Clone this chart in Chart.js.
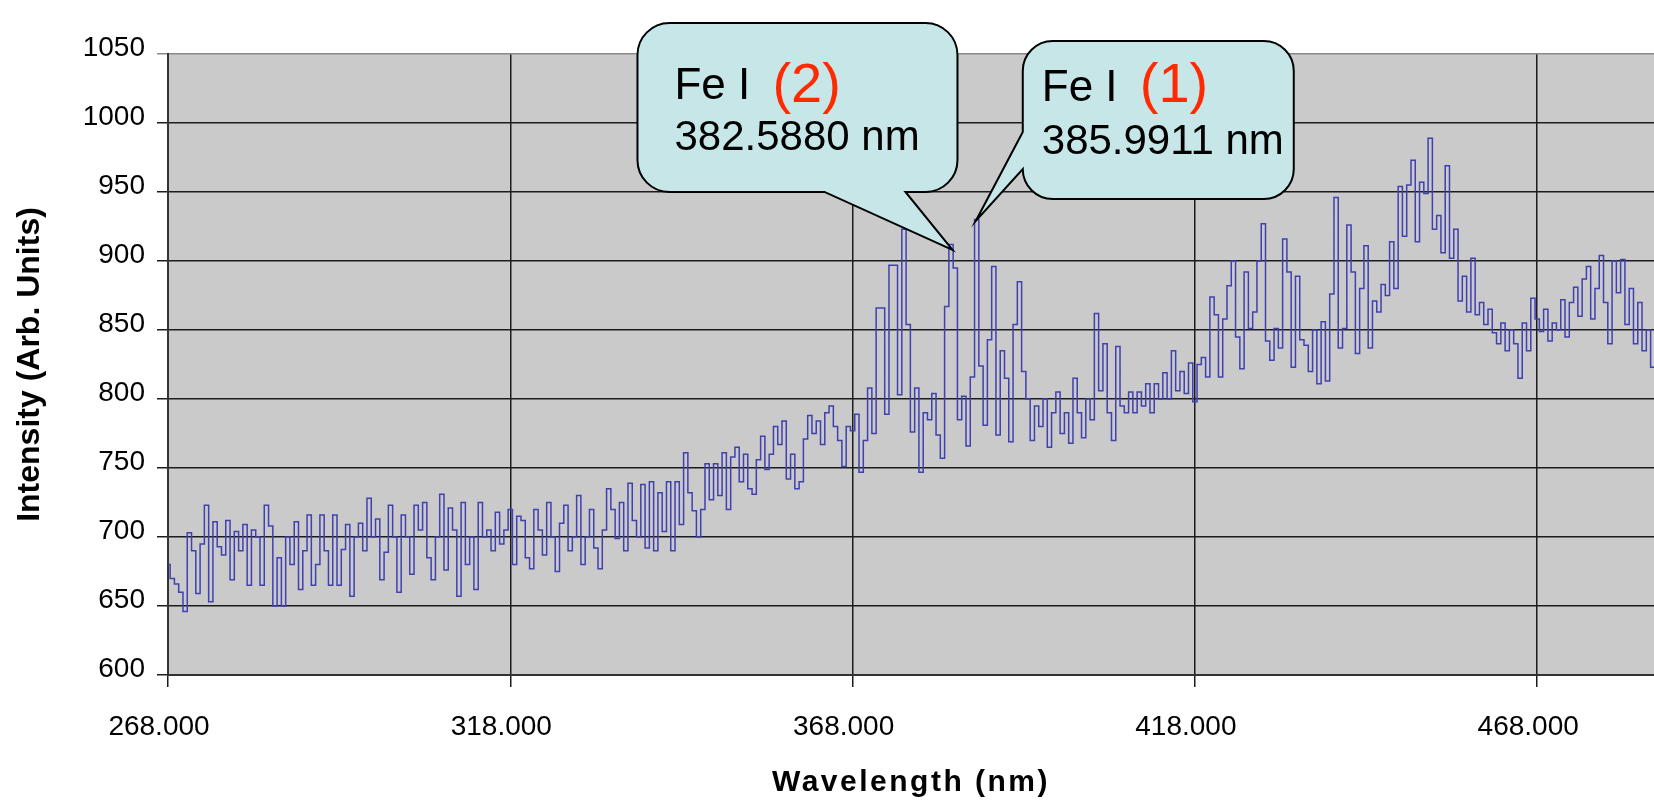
<!DOCTYPE html>
<html>
<head>
<meta charset="utf-8">
<title>Fe I emission spectrum</title>
<script src="https://cdn.jsdelivr.net/npm/chart.js@4.4.1/dist/chart.umd.min.js"></script>
<style>
  html, body { margin: 0; padding: 0; background: #fff; overflow: hidden; }
  #wrap { width: 1654px; height: 804px; }
</style>
</head>
<body>
<div id="wrap"><canvas id="spectrumChart" width="1654" height="804"></canvas></div>
<script>
// wavelength grid of the spectrometer (nm)
const startNm = 268;
const stepNm = 0.625;

const xTickValues = [268, 318, 368, 418, 468];

// intensity, one row = 10 nm
const intensity = [
  680, 670, 666, 660, 646, 703, 690, 659, 695, 723, 653, 711, 693, 687, 712, 669,
  704, 690, 709, 665, 705, 700, 665, 723, 708, 650, 685, 650, 700, 680, 711, 662,
  690, 716, 665, 680, 716, 690, 665, 716, 665, 691, 709, 657, 700, 710, 690, 728,
  700, 713, 669, 689, 723, 700, 660, 716, 700, 673, 723, 705, 725, 685, 669, 700,
  731, 676, 721, 705, 657, 725, 680, 700, 662, 725, 700, 705, 690, 718, 695, 705,
  720, 680, 715, 712, 685, 677, 720, 705, 687, 725, 700, 675, 710, 723, 690, 700,
  730, 680, 700, 720, 692, 677, 705, 735, 720, 699, 725, 690, 739, 712, 700, 738,
  692, 740, 690, 732, 704, 740, 690, 740, 709, 761, 732, 719, 700, 720, 753, 727,
  753, 730, 761, 720, 758, 765, 740, 760, 735, 731, 756, 773, 749, 760, 780, 767,
  784, 742, 760, 735, 740, 771, 788, 775, 784, 767, 790, 795, 780, 770, 751, 780,
  777, 789, 747, 770, 808, 775, 866, 866, 789, 897, 897, 803, 923, 854, 776, 808,
  747, 790, 785, 804, 774, 757, 867, 912, 895, 785, 802, 766, 816, 930, 824, 781,
  843, 896, 774, 835, 815, 769, 854, 885, 820, 800, 770, 795, 780, 800, 765, 790,
  805, 775, 790, 768, 815, 790, 772, 800, 785, 862, 806, 840, 790, 770, 838, 795,
  790, 805, 790, 805, 795, 811, 790, 811, 800, 819, 800, 835, 806, 820, 804, 826,
  798, 825, 830, 816, 874, 861, 816, 858, 882, 900, 845, 822, 892, 851, 863, 900,
  927, 842, 828, 851, 837, 916, 892, 823, 889, 843, 839, 820, 850, 811, 856, 813,
  876, 946, 837, 851, 926, 892, 833, 880, 911, 837, 871, 863, 883, 875, 914, 880,
  954, 918, 955, 973, 914, 957, 949, 989, 923, 933, 906, 969, 902, 923, 871, 889,
  863, 902, 861, 870, 854, 865, 848, 840, 855, 835, 850, 840, 815, 855, 835, 873,
  858, 849, 865, 842, 855, 850, 872, 845, 870, 881, 860, 887, 896, 858, 880, 904,
  870, 840, 900, 877, 901, 854, 880, 840, 870, 835, 850, 823, 830, 845, 835, 840
];

// the two marked iron lines
const lineNames = ["Fe I", "Fe I"];
const lineOrders = ["(2)", "(1)"];
const lineWavelengths = [382.5880, 385.9911];
const linePeaks = [908, 929];

const FONT = '"Liberation Sans", Arial, sans-serif';

const points = intensity.map((v, i) => ({ x: startNm + i * stepNm, y: v }));

// balloon geometry, relative to the tip that points at the peak
const balloonLayout = [
  { left: -315, right: 5, top: -227, bottom: -58, radius: 32,
    tail: { side: "bottom", from: -47, to: -128 },
    nameX: 37, nameY: 76, orderX: 135, orderY: 79, numberY: 127 },
  { left: 47, right: 318, top: -180, bottom: -22, radius: 30,
    tail: { side: "left", from: -52, to: -89 },
    nameX: 19, nameY: 60, orderX: 117, orderY: 61, numberY: 113 }
];

const plotBackground = {
  id: "plotBackground",
  beforeDraw(chart) {
    const { ctx, chartArea: a } = chart;
    ctx.save();
    ctx.fillStyle = "#cacaca";
    ctx.fillRect(a.left, a.top, a.right - a.left, a.bottom - a.top);
    ctx.restore();
  }
};

function balloonPath(ctx, l, t, r, b, rad, tail, tipX, tipY) {
  ctx.beginPath();
  ctx.moveTo(l + rad, t);
  ctx.arcTo(r, t, r, b, rad);
  ctx.arcTo(r, b, l, b, rad);
  if (tail.side === "bottom") {
    ctx.lineTo(tipX + tail.from, b);
    ctx.lineTo(tipX, tipY);
    ctx.lineTo(tipX + tail.to, b);
  }
  ctx.arcTo(l, b, l, t, rad);
  if (tail.side === "left") {
    ctx.lineTo(l, tipY + tail.from);
    ctx.lineTo(tipX, tipY);
    ctx.lineTo(l, tipY + tail.to);
  }
  ctx.arcTo(l, t, r, t, rad);
  ctx.closePath();
}

const balloons = {
  id: "balloons",
  afterDraw(chart) {
    const { ctx, scales: { x, y } } = chart;
    lineWavelengths.forEach((nm, i) => {
      const tipX = x.getPixelForValue(nm);
      const tipY = y.getPixelForValue(linePeaks[i]);
      const L = balloonLayout[i];
      const l = tipX + L.left, r = tipX + L.right, t = tipY + L.top, b = tipY + L.bottom;

      ctx.save();
      balloonPath(ctx, l, t, r, b, L.radius, L.tail, tipX, tipY);
      ctx.fillStyle = "#c6e6e8";
      ctx.fill();
      ctx.lineWidth = 2;
      ctx.strokeStyle = "#000";
      ctx.stroke();

      ctx.textAlign = "left";
      ctx.textBaseline = "alphabetic";
      ctx.fillStyle = "#000";
      ctx.font = "44px " + FONT;
      ctx.fillText(lineNames[i], l + L.nameX, t + L.nameY);
      ctx.font = "56px " + FONT;
      ctx.fillStyle = "#ff2a00";
      ctx.fillText(lineOrders[i], l + L.orderX, t + L.orderY);
      ctx.font = "42px " + FONT;
      ctx.fillStyle = "#000";
      ctx.fillText(nm.toFixed(4) + " nm", l + L.nameX, t + L.numberY);
      ctx.restore();
    });
  }
};

// the axis title in the original is tracked out a little
function spacedTitle(scale) {
  if (scale._spaced) return;
  scale._spaced = true;
  const draw = scale.drawTitle.bind(scale);
  scale.drawTitle = function () {
    const ctx = this.ctx;
    ctx.save();
    ctx.letterSpacing = "2.5px";
    draw();
    ctx.restore();
  };
}

new Chart(document.getElementById("spectrumChart").getContext("2d"), {
  type: "line",
  data: {
    datasets: [{
      label: "Intensity",
      data: points,
      borderColor: "#4040b0",
      borderWidth: 1.5,
      pointRadius: 0,
      stepped: "middle",
      fill: false
    }]
  },
  options: {
    responsive: false,
    animation: false,
    devicePixelRatio: 1,
    layout: { padding: { top: 54, left: 0, right: 0, bottom: 0 } },
    plugins: { legend: { display: false }, tooltip: { enabled: false } },
    scales: {
      x: {
        type: "linear",
        min: 268,
        max: 485.06,
        afterBuildTicks: (scale) => { scale.ticks = xTickValues.map(value => ({ value })); },
        afterFit: (scale) => { scale.height = 129; spacedTitle(scale); },
        ticks: {
          callback: (v) => Number(v).toFixed(3),
          font: { family: FONT, size: 28 },
          color: "#000",
          padding: 23,
          labelOffset: -9,
          maxRotation: 0,
          autoSkip: false
        },
        grid: { color: "#1c1c1c", lineWidth: 1.5, tickLength: 12 },
        border: { color: "#333", width: 2 },
        title: {
          display: true,
          text: "Wavelength (nm)",
          font: { family: FONT, size: 30, weight: "bold" },
          color: "#000",
          padding: { top: 0, bottom: 3 }
        }
      },
      y: {
        min: 600,
        max: 1050,
        afterFit: (scale) => { scale.width = 168; },
        ticks: {
          stepSize: 50,
          callback: (v) => String(v),
          font: { family: FONT, size: 28 },
          color: "#000",
          padding: 12,
          labelOffset: -6
        },
        grid: {
          color: (c) => (c.tick && c.tick.value === 1050 ? "#8a8a8a" : "#1c1c1c"),
          lineWidth: 1.5,
          tickLength: 11
        },
        border: { color: "#333", width: 2 },
        title: {
          display: true,
          text: "Intensity (Arb. Units)",
          font: { family: FONT, size: 32, weight: "bold" },
          color: "#000",
          padding: { top: 11, bottom: 0 }
        }
      }
    }
  },
  plugins: [plotBackground, balloons]
});
</script>
</body>
</html>
